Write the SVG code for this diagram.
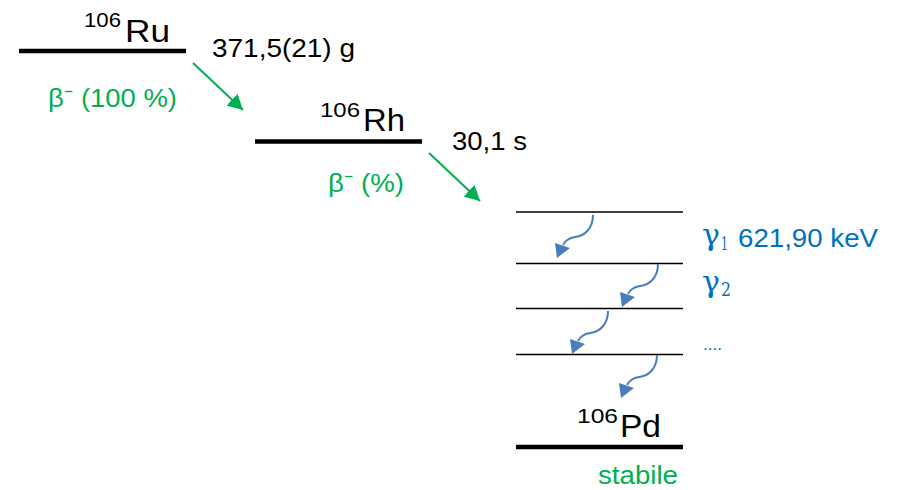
<svg xmlns="http://www.w3.org/2000/svg" xmlns:xlink="http://www.w3.org/1999/xlink" width="897" height="490" viewBox="0 0 897 490">
<style>
.t{font-family:"Liberation Sans","Open Sans",sans-serif}
.s{font-family:"DejaVu Serif","Liberation Serif",serif}
.k{fill:#000}
.g{fill:#00B050}
.b{fill:#0070C0}
.sym{font-size:32px}
.sup{font-size:21px}
.lbl{font-size:26px}
.thick{stroke:#000;stroke-width:4.4}
.thin{stroke:#000;stroke-width:1.5}
.beta{stroke:#00B050;stroke-width:2;fill:none}
.gam{stroke:#4A7EBB;stroke-width:2;fill:none}
</style>
<defs>
<marker id="ga" markerUnits="userSpaceOnUse" markerWidth="16" markerHeight="16" refX="15" refY="8" orient="auto">
<path d="M0,0 L15,8 L0,16 z" fill="#00B050"/>
</marker>
<g id="wave">
<path class="gam" d="M0 0 C0 13 -8 21 -18 22 C-24 23 -28 26 -30 30"/>
<polygon points="-38,28 -23,33 -36,43" fill="#4A7EBB"/>
</g>
</defs>
<rect width="897" height="490" fill="#fff"/>
<g id="ru">
<line class="thick" x1="19" y1="51" x2="186" y2="51"/>
<text class="t k sup" x="84" y="27" textLength="37" lengthAdjust="spacingAndGlyphs">106</text>
<text class="t k sym" x="125" y="42" textLength="45" lengthAdjust="spacingAndGlyphs">Ru</text>
<text class="t k lbl" x="212" y="57" font-size="27" textLength="143" lengthAdjust="spacingAndGlyphs">371,5(21) g</text>
<text class="t g lbl" x="48" y="107" textLength="129" lengthAdjust="spacingAndGlyphs">β⁻ (100 %)</text>
</g>
<g id="rh">
<line class="thick" x1="255" y1="141.5" x2="422" y2="141.5"/>
<text class="t k sup" x="320" y="117" textLength="40" lengthAdjust="spacingAndGlyphs">106</text>
<text class="t k sym" x="363" y="131" textLength="42" lengthAdjust="spacingAndGlyphs">Rh</text>
<text class="t k lbl" x="452" y="150" textLength="75" lengthAdjust="spacingAndGlyphs">30,1 s</text>
<text class="t g lbl" x="328" y="192" textLength="76" lengthAdjust="spacingAndGlyphs">β⁻ (%)</text>
</g>
<g id="levels">
<line class="thin" x1="516" y1="212" x2="683" y2="212"/>
<line class="thin" x1="516" y1="263.5" x2="683" y2="263.5"/>
<line class="thin" x1="516" y1="308.5" x2="683" y2="308.5"/>
<line class="thin" x1="516" y1="354.5" x2="683" y2="354.5"/>
<text class="s b" x="702" y="245" font-size="29" textLength="18" lengthAdjust="spacingAndGlyphs">γ</text>
<text class="s b" x="721" y="250" font-size="19" textLength="7" lengthAdjust="spacingAndGlyphs">1</text>
<text class="t b lbl" x="738" y="247" textLength="140" lengthAdjust="spacingAndGlyphs">621,90 keV</text>
<text class="s b" x="702" y="292" font-size="29" textLength="18" lengthAdjust="spacingAndGlyphs">γ</text>
<text class="s b" x="721" y="295.5" font-size="19" textLength="10" lengthAdjust="spacingAndGlyphs">2</text>
<text class="t b" x="703" y="350" font-size="17" textLength="19" lengthAdjust="spacingAndGlyphs">....</text>
</g>
<g id="pd">
<line class="thick" x1="516" y1="447" x2="683" y2="447"/>
<text class="t k sup" x="577" y="423" textLength="41" lengthAdjust="spacingAndGlyphs">106</text>
<text class="t k sym" x="620" y="437" font-size="33" textLength="41" lengthAdjust="spacingAndGlyphs">Pd</text>
<text class="t g" x="598" y="484" font-size="26" textLength="80" lengthAdjust="spacingAndGlyphs">stabile</text>
</g>
<g id="connectors">
<line class="beta" x1="193" y1="63" x2="243" y2="110" marker-end="url(#ga)"/>
<line class="beta" x1="429" y1="153" x2="480" y2="201" marker-end="url(#ga)"/>
<use xlink:href="#wave" x="593" y="215"/>
<use xlink:href="#wave" x="658" y="264"/>
<use xlink:href="#wave" x="608" y="311"/>
<use xlink:href="#wave" x="657" y="355"/>
</g>
</svg>
